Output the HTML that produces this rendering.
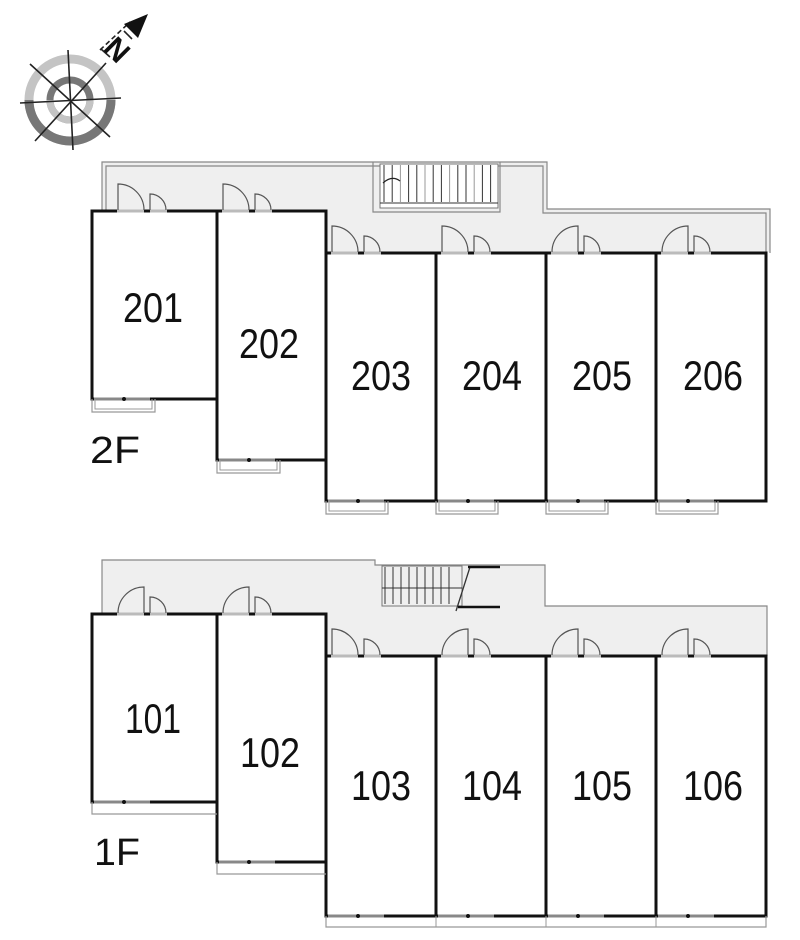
<!DOCTYPE html>
<html><head><meta charset="utf-8"><style>
html,body{margin:0;padding:0;background:#fff;}
svg{display:block}
text{font-family:"Liberation Sans",sans-serif;fill:#111}
</style></head><body>
<svg id="s" width="800" height="940" viewBox="0 0 800 940" xmlns="http://www.w3.org/2000/svg">
<g>
<circle cx="70" cy="100" r="41" fill="none" stroke="#c4c4c4" stroke-width="9"/>
<path d="M29 100 A41 41 0 0 0 111 100" fill="none" stroke="#777" stroke-width="9"/>
<circle cx="70" cy="100" r="20" fill="none" stroke="#777" stroke-width="7"/>
<path d="M50 100 A20 20 0 0 0 90 100" fill="none" stroke="#c4c4c4" stroke-width="7"/>
<g stroke="#222" stroke-width="1.6">
<line x1="68" y1="50" x2="73" y2="150"/>
<line x1="20" y1="103" x2="121" y2="98"/>
<line x1="30" y1="64" x2="110" y2="137"/>
<line x1="35" y1="141" x2="106" y2="63"/>
<line x1="100" y1="50" x2="130" y2="22" stroke-dasharray="5,3"/>
<line x1="101" y1="49" x2="110" y2="57"/>
<line x1="124" y1="31" x2="132" y2="39"/>
</g>
<polygon points="148,14 124,24 138,38" fill="#111"/>
<text x="117" y="60" font-size="30" font-weight="bold" text-anchor="middle" transform="rotate(45 117 50)">N</text>
</g>

<path d="M102 162 H547 V209 H770 V252 H92 V210 H102 Z" fill="#efefef"/>
<path d="M102 210 V162 H547 V209 H770 V253" fill="none" stroke="#888" stroke-width="1.2"/>
<path d="M106 210 V166 H543 V213 H766 V253" fill="none" stroke="#888" stroke-width="1.2"/>
<path d="M373 162 V212 H500 V162" fill="none" stroke="#888" stroke-width="1.2"/>
<rect x="380" y="164" width="118" height="44" fill="#fff" stroke="#777"/>
<g id="st2"></g>

<path d="M102 560 H375 V565 H545 V606 H767 V656 H92 V614 H102 Z" fill="#efefef"/>
<path d="M102 614 V560 H375 V565 H545 V606 H767 V656" fill="none" stroke="#888" stroke-width="1.2"/>
<g id="st1"></g>

<g id="units"></g>

<text x="153" y="322" font-size="42" text-anchor="middle" textLength="60" lengthAdjust="spacingAndGlyphs">201</text>
<text x="269" y="358" font-size="42" text-anchor="middle" textLength="60" lengthAdjust="spacingAndGlyphs">202</text>
<text x="381" y="390" font-size="42" text-anchor="middle" textLength="60" lengthAdjust="spacingAndGlyphs">203</text>
<text x="492" y="390" font-size="42" text-anchor="middle" textLength="60" lengthAdjust="spacingAndGlyphs">204</text>
<text x="602" y="390" font-size="42" text-anchor="middle" textLength="60" lengthAdjust="spacingAndGlyphs">205</text>
<text x="713" y="390" font-size="42" text-anchor="middle" textLength="60" lengthAdjust="spacingAndGlyphs">206</text>
<text x="90" y="463" font-size="38" textLength="50" lengthAdjust="spacingAndGlyphs">2F</text>

<text x="153" y="733" font-size="42" text-anchor="middle" textLength="56" lengthAdjust="spacingAndGlyphs">101</text>
<text x="270" y="767" font-size="42" text-anchor="middle" textLength="60" lengthAdjust="spacingAndGlyphs">102</text>
<text x="381" y="800" font-size="42" text-anchor="middle" textLength="60" lengthAdjust="spacingAndGlyphs">103</text>
<text x="492" y="800" font-size="42" text-anchor="middle" textLength="60" lengthAdjust="spacingAndGlyphs">104</text>
<text x="602" y="800" font-size="42" text-anchor="middle" textLength="60" lengthAdjust="spacingAndGlyphs">105</text>
<text x="713" y="800" font-size="42" text-anchor="middle" textLength="60" lengthAdjust="spacingAndGlyphs">106</text>
<text x="94" y="865" font-size="38" textLength="46" lengthAdjust="spacingAndGlyphs">1F</text>
</svg>
<script>
var NS="http://www.w3.org/2000/svg";
function el(p,t,a){var e=document.createElementNS(NS,t);for(var k in a)e.setAttribute(k,a[k]);p.appendChild(e);return e;}
var U=document.getElementById('units');
var s2=document.getElementById('st2');
for(var x=384;x<=494;x+=8.2){el(s2,'line',{x1:x,y1:165,x2:x,y2:202,stroke:(Math.round((x-384)/8.2)%3==2)?'#999':'#333','stroke-width':1});}
el(s2,'line',{x1:380,y1:203,x2:498,y2:203,stroke:'#333','stroke-width':1});
el(s2,'path',{d:'M383 183 Q392 175 400 181',fill:'none',stroke:'#222','stroke-width':1.2});
var s1=document.getElementById('st1');
el(s1,'rect',{x:382,y:566,width:80,height:40,fill:'#efefef',stroke:'#777'});
for(var x=385;x<=455;x+=8){el(s1,'line',{x1:x,y1:567,x2:x,y2:604,stroke:'#333','stroke-width':1});}
el(s1,'line',{x1:382,y1:588,x2:462,y2:588,stroke:'#333','stroke-width':1});
el(s1,'line',{x1:470,y1:567,x2:456,y2:611,stroke:'#333','stroke-width':1.3});
el(s1,'line',{x1:468,y1:567,x2:500,y2:567,stroke:'#111','stroke-width':2.5});
el(s1,'line',{x1:458,y1:607,x2:500,y2:607,stroke:'#111','stroke-width':2.5});
function door(x,y,r,hl){
  if(hl) el(U,'path',{d:'M'+x+' '+y+' V'+(y-r)+' A'+r+' '+r+' 0 0 1 '+(x+r)+' '+y,fill:'none',stroke:'#555','stroke-width':1.2});
  else el(U,'path',{d:'M'+x+' '+y+' A'+r+' '+r+' 0 0 1 '+(x+r)+' '+(y-r)+' V'+y,fill:'none',stroke:'#555','stroke-width':1.2});
}
function unit(x1,y1,x2,y2,bal,bh,sh,off){
  off=off||0;
  el(U,'rect',{x:x1,y:y1,width:x2-x1,height:y2-y1,fill:'#fff',stroke:'none'});
  el(U,'path',{d:'M'+x1+' '+y1+' H'+x2+' V'+y2+' H'+x1+' Z',fill:'none',stroke:'#111','stroke-width':3});
  el(U,'line',{x1:x1+off+5,y1:y1,x2:x1+off+32,y2:y1,stroke:'#bbb','stroke-width':3});
  el(U,'line',{x1:x1+off+38,y1:y1,x2:x1+off+55,y2:y1,stroke:'#bbb','stroke-width':3});
  door(x1+off+6,y1-1,26,bh); door(x1+off+38,y1-1,16,sh);
  el(U,'line',{x1:x1+2,y1:y2,x2:x1+58,y2:y2,stroke:'#888','stroke-width':3});
  el(U,'circle',{cx:x1+32,cy:y2,r:2,fill:'#111'});
  if(bal){var w=bal;el(U,'path',{d:'M'+x1+' '+y2+' V'+(y2+13)+' H'+(x1+w)+' V'+y2,fill:'none',stroke:'#999','stroke-width':1.2});
   el(U,'path',{d:'M'+(x1+3)+' '+y2+' V'+(y2+10)+' H'+(x1+w-3)+' V'+y2,fill:'none',stroke:'#999','stroke-width':1});}
}
unit(92,211,217,399,63,true,true,20); unit(217,211,326,460,63,true,true,0);
[[326,true],[436,true],[546,false],[656,false]].forEach(function(a){unit(a[0],253,a[0]+110,501,62,a[1],true);});
unit(92,614,217,802,0,false,true,20); unit(217,614,326,862,0,false,true,0);
[[326,true],[436,false],[546,false],[656,false]].forEach(function(a){unit(a[0],656,a[0]+110,916,0,a[1],true);});
el(U,'path',{d:'M92 802 V814 H217',fill:'none',stroke:'#999','stroke-width':1.2});
el(U,'path',{d:'M217 862 V874 H326',fill:'none',stroke:'#999','stroke-width':1.2});
el(U,'path',{d:'M326 916 V927 H766 V916',fill:'none',stroke:'#999','stroke-width':1.2});
[436,546,656].forEach(function(x){el(U,'line',{x1:x,y1:916,x2:x,y2:927,stroke:'#999'});});
</script>
</body></html>
